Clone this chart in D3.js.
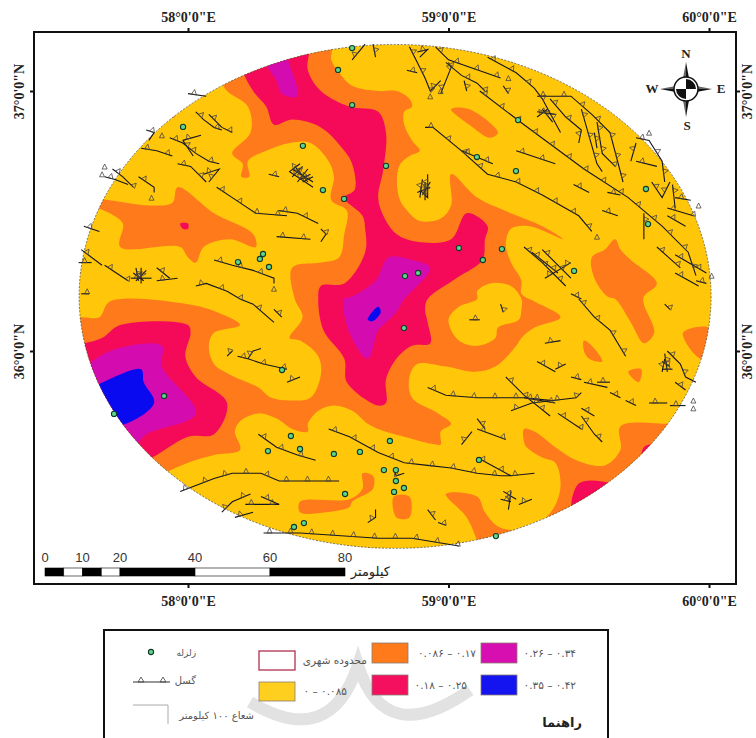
<!DOCTYPE html>
<html>
<head>
<meta charset="utf-8">
<style>
	body { margin: 0; background: #fff; }
	svg { display: block; }
	.axis text { font-family: "Liberation Serif", serif; font-weight: bold; font-size: 14px; fill: #222; }
	.axis line { stroke: #111; stroke-width: 2; }
	.axis path { display: none; }
	.fa { font-family: "DejaVu Sans", sans-serif; fill: #555; }
</style>
<script src="https://cdn.jsdelivr.net/npm/d3@7"></script>
</head>
<body>
<script>
'use strict';

// study area: the 100 km buffer, in degrees
var bufferCentre = [58.795, 36.21];
var bufferRadius = [1.213, 0.969];

var lonTicks = [58, 59, 60];
var latTicks = [36, 37];

var orangeZones = [
	[[58.55,37.20],[58.55,37.12],[58.58,37.07],[58.63,37.02],[58.73,37.00],[58.80,37.00],[58.85,36.97],[58.86,36.94],[58.83,36.92],[58.83,36.87],[58.86,36.81],[58.89,36.77],[58.85,36.75],[58.81,36.71],[58.81,36.59],[58.85,36.53],[58.89,36.50],[58.97,36.51],[59.01,36.56],[59.01,36.68],[59.11,36.59],[59.24,36.53],[59.36,36.48],[59.44,36.43],[59.31,36.48],[59.24,36.47],[59.22,36.41],[59.24,36.34],[59.28,36.27],[59.28,36.22],[59.33,36.19],[59.43,36.13],[59.33,36.09],[59.28,36.05],[59.26,36.02],[59.18,35.94],[59.10,35.92],[58.99,35.94],[58.88,35.95],[58.85,35.90],[58.86,35.82],[58.96,35.76],[59.01,35.72],[58.97,35.69],[58.97,35.64],[58.95,35.64],[58.83,35.67],[58.73,35.70],[58.69,35.72],[58.63,35.77],[58.56,35.79],[58.50,35.77],[58.46,35.72],[58.46,35.69],[58.40,35.70],[58.34,35.74],[58.27,35.76],[58.20,35.73],[58.18,35.69],[58.20,35.62],[58.10,35.60],[58.00,35.57],[57.91,35.53],[57.85,35.50],[57.59,35.50],[57.51,36.12],[57.59,36.13],[57.66,36.13],[57.70,36.19],[58.00,36.18],[58.11,36.15],[58.20,36.10],[58.10,36.07],[58.08,36.02],[58.10,35.95],[58.16,35.91],[58.27,35.86],[58.32,35.82],[58.39,35.81],[58.47,35.82],[58.51,35.91],[58.50,35.98],[58.43,36.04],[58.39,36.05],[58.44,36.13],[58.41,36.20],[58.40,36.32],[58.51,36.34],[58.58,36.36],[58.60,36.45],[58.61,36.54],[58.55,36.58],[58.56,36.67],[58.54,36.73],[58.47,36.80],[58.39,36.80],[58.30,36.77],[58.23,36.73],[58.235,36.67],[58.205,36.67],[58.21,36.72],[58.17,36.76],[58.24,36.84],[58.23,36.94],[58.15,37.00],[58.12,37.05],[58.10,37.12],[58.20,37.20]],
	[[57.64,36.58],[57.85,36.56],[57.94,36.57],[57.96,36.63],[58.10,36.53],[58.25,36.45],[58.26,36.40],[58.16,36.43],[58.06,36.40],[58.03,36.34],[58.00,36.36],[57.97,36.40],[57.74,36.40],[57.75,36.49],[57.70,36.53],[57.64,36.56]],
	[[59.64,36.43],[59.66,36.39],[59.70,36.35],[59.80,36.26],[59.75,36.21],[59.75,36.18],[59.79,36.07],[59.75,36.03],[59.70,36.11],[59.64,36.20],[59.61,36.21],[59.56,36.28],[59.55,36.36],[59.60,36.39]],
	[[59.01,36.93],[59.08,36.93],[59.19,36.84],[59.16,36.82],[59.08,36.87]],
	[[57.91,36.92],[57.94,36.93],[57.95,36.90],[57.92,36.90]],
	[[59.90,36.07],[60.00,36.09],[60.01,36.02],[59.97,35.97]],
	[[59.52,36.04],[59.55,36.02],[59.59,35.96],[59.54,35.97],[59.52,36.00]],
	[[59.69,35.92],[59.74,35.93],[59.73,35.88]],
	[[59.29,35.70],[59.33,35.69],[59.41,35.63],[59.49,35.58],[59.60,35.56],[59.66,35.62],[59.66,35.71],[59.87,35.72],[59.97,35.73],[59.97,35.43],[59.43,35.20],[59.12,35.24],[59.11,35.27],[59.07,35.36],[58.99,35.45],[59.11,35.44],[59.14,35.38],[59.20,35.32],[59.32,35.32],[59.40,35.39],[59.43,35.48],[59.41,35.57],[59.36,35.59],[59.30,35.63],[59.29,35.65]],
	[[58.67,35.53],[58.71,35.52],[58.71,35.47],[58.63,35.42],[58.62,35.40],[58.53,35.38],[58.43,35.38],[58.43,35.42],[58.62,35.43],[58.67,35.47]],
	[[58.79,35.44],[58.85,35.44],[58.85,35.36],[58.80,35.36]]
];

var crimsonZones = [
	[[58.20,37.20],[58.21,37.08],[58.25,37.00],[58.30,36.94],[58.33,36.87],[58.40,36.89],[58.51,36.86],[58.60,36.77],[58.63,36.72],[58.64,36.62],[58.60,36.59],[58.67,36.52],[58.68,36.47],[58.68,36.38],[58.60,36.26],[58.51,36.25],[58.50,36.20],[58.52,36.08],[58.60,35.97],[58.61,35.88],[58.73,35.79],[58.76,35.80],[58.76,35.89],[58.80,35.97],[58.86,36.02],[58.93,36.03],[58.92,36.11],[58.91,36.16],[58.92,36.20],[59.03,36.28],[59.13,36.35],[59.14,36.43],[59.15,36.48],[59.07,36.53],[59.01,36.43],[58.88,36.42],[58.80,36.45],[58.75,36.52],[58.73,36.59],[58.75,36.70],[58.76,36.84],[58.73,36.92],[58.62,36.94],[58.51,37.00],[58.46,37.08],[58.46,37.20]],
	[[57.60,36.03],[57.67,36.05],[57.74,36.10],[58.00,36.10],[58.01,36.07],[57.99,35.98],[58.03,35.90],[58.15,35.80],[58.10,35.68],[58.00,35.67],[57.84,35.58],[57.66,35.54],[57.51,35.81],[57.51,36.02]],
	[[59.75,35.63],[59.83,35.64],[59.89,35.58],[59.75,35.54]],
	[[59.50,35.49],[59.63,35.49],[59.74,35.43],[59.48,35.37]],
	[[57.97,36.49],[58.00,36.49],[58.00,36.47],[57.98,36.47]]
];

var magentaZones = [
	[[58.77,36.36],[58.86,36.35],[58.93,36.32],[58.85,36.22],[58.83,36.20],[58.80,36.15],[58.76,36.11],[58.73,36.08],[58.69,35.97],[58.62,36.07],[58.60,36.20],[58.63,36.21],[58.72,36.27]],
	[[58.30,37.20],[58.30,37.11],[58.34,37.04],[58.36,36.99],[58.42,36.98],[58.38,37.14],[58.38,37.20]],
	[[57.62,35.95],[57.73,36.01],[57.90,36.02],[57.90,35.94],[58.03,35.76],[57.84,35.68],[57.79,35.63],[57.62,35.58],[57.55,35.85]]
];

var blueZones = [
	[[58.69,36.12],[58.73,36.17],[58.74,36.15],[58.71,36.115]],
	[[57.65,35.87],[57.82,35.93],[57.83,35.88],[57.87,35.80],[57.73,35.71],[57.62,35.73],[57.60,35.85]]
];

// yellow islands sitting inside the orange
var yellowZones = [
	[[59.11,36.23],[59.16,36.26],[59.24,36.25],[59.28,36.20],[59.28,36.16],[59.27,36.12],[59.19,36.09],[59.18,36.05],[59.11,36.02],[59.04,36.04],[59.00,36.12],[59.04,36.17],[59.11,36.20]]
];

var faultLines = [
	[[58.00,36.99],[58.07,36.98]],
	[[58.03,36.92],[58.06,36.89],[58.10,36.86],[58.13,36.85]],
	[[58.08,36.91],[58.11,36.88],[58.13,36.86],[58.17,36.84]],
	[[57.93,36.82],[57.98,36.80],[58.03,36.76],[58.08,36.73],[58.12,36.72]],
	[[57.98,36.81],[58.05,36.83]],
	[[57.98,36.81],[58.02,36.75]],
	[[57.82,36.78],[57.88,36.77],[57.94,36.75]],
	[[57.84,36.85],[57.87,36.84],[57.85,36.81]],
	[[57.96,36.72],[58.01,36.71],[58.07,36.65]],
	[[58.06,36.68],[58.12,36.70],[58.08,36.65]],
	[[57.71,36.70],[57.75,36.67],[57.79,36.63]],
	[[57.68,36.67],[57.72,36.66],[57.77,36.64]],
	[[57.81,36.67],[57.87,36.63],[57.87,36.61]],
	[[58.11,36.63],[58.17,36.59],[58.26,36.53],[58.38,36.52]],
	[[58.35,36.54],[58.42,36.53],[58.50,36.49]],
	[[58.31,36.68],[58.35,36.67]],
	[[58.43,36.72],[58.39,36.69],[58.48,36.63]],
	[[58.40,36.70],[58.48,36.65]],
	[[58.42,36.65],[58.46,36.70]],
	[[58.43,36.66],[58.47,36.68]],
	[[58.41,36.71],[58.46,36.65]],
	[[58.40,36.67],[58.44,36.71]],
	[[58.44,36.65],[58.48,36.67]],
	[[58.34,36.44],[58.47,36.43]],
	[[58.51,36.47],[58.53,36.45],[58.51,36.42]],
	[[58.10,36.35],[58.17,36.33],[58.25,36.31],[58.33,36.28],[58.33,36.26]],
	[[57.58,36.34],[57.63,36.34]],
	[[57.59,36.39],[57.67,36.33]],
	[[57.68,36.33],[57.77,36.27]],
	[[57.78,36.28],[57.86,36.28]],
	[[57.80,36.32],[57.81,36.27]],
	[[57.79,36.30],[57.83,36.27]],
	[[57.80,36.27],[57.84,36.31]],
	[[57.82,36.32],[57.82,36.26]],
	[[57.88,36.32],[57.93,36.28]],
	[[57.88,36.27],[57.96,36.28]],
	[[58.03,36.25],[58.07,36.26],[58.15,36.23],[58.20,36.20],[58.25,36.18],[58.33,36.11]],
	[[58.33,36.16],[58.36,36.13]],
	[[57.59,36.22],[57.62,36.22]],
	[[57.60,36.48],[57.66,36.46]],
	[[58.15,35.98],[58.17,36.00]],
	[[58.19,35.98],[58.23,35.97],[58.29,35.95],[58.38,35.93]],
	[[58.23,35.97],[58.25,36.00],[58.28,36.01]],
	[[58.38,35.88],[58.43,35.90]],
	[[58.27,35.68],[58.34,35.63],[58.42,35.60],[58.49,35.58]],
	[[58.54,35.70],[58.62,35.67],[58.73,35.61],[58.83,35.57],[58.92,35.56],[59.01,35.55],[59.11,35.53],[59.20,35.52],[59.24,35.52],[59.33,35.53]],
	[[57.97,35.46],[58.10,35.51],[58.17,35.53],[58.28,35.53],[58.35,35.50],[58.58,35.50]],
	[[58.13,35.38],[58.17,35.42],[58.24,35.45]],
	[[58.22,35.41],[58.35,35.41]],
	[[58.28,35.44],[58.35,35.41]],
	[[58.18,35.36],[58.25,35.38]],
	[[58.29,35.30],[58.43,35.30],[58.73,35.28],[58.86,35.28],[59.04,35.25]],
	[[58.69,35.34],[58.72,35.36],[58.72,35.39]],
	[[59.11,35.59],[59.24,35.52]],
	[[58.79,35.54],[58.80,35.52],[58.83,35.53]],
	[[59.21,35.46],[59.26,35.43]],
	[[59.24,35.46],[59.23,35.39]],
	[[59.20,35.43],[59.24,35.42]],
	[[59.27,35.41],[59.32,35.43]],
	[[58.92,35.39],[58.95,35.35]],
	[[58.96,35.34],[58.99,35.33]],
	[[59.11,35.70],[59.22,35.66]],
	[[59.14,35.70],[59.11,35.74]],
	[[59.05,35.64],[59.09,35.69]],
	[[58.92,35.86],[58.99,35.83],[59.11,35.82],[59.29,35.82],[59.39,35.81]],
	[[59.22,35.90],[59.29,35.83],[59.39,35.75]],
	[[59.24,35.77],[59.32,35.80],[59.49,35.82],[59.51,35.84]],
	[[59.29,35.82],[59.41,35.80]],
	[[59.42,35.76],[59.51,35.70]],
	[[59.51,35.75],[59.56,35.68],[59.59,35.65]],
	[[59.51,35.78],[59.56,35.75]],
	[[59.37,36.03],[59.43,36.04]],
	[[59.34,35.96],[59.41,35.92]],
	[[59.41,35.93],[59.45,35.95]],
	[[59.47,35.90],[59.51,35.89]],
	[[59.52,35.88],[59.61,35.86]],
	[[59.57,35.88],[59.62,35.88]],
	[[59.62,35.84],[59.66,35.82]],
	[[59.68,35.81],[59.72,35.79]],
	[[59.77,35.80],[59.84,35.80]],
	[[59.85,35.79],[59.91,35.79]],
	[[59.50,36.20],[59.56,36.13],[59.62,36.08],[59.68,35.98]],
	[[59.84,36.00],[59.89,35.95],[59.91,35.90],[59.95,35.88]],
	[[59.83,35.97],[59.82,35.92]],
	[[59.82,35.93],[59.86,35.93]],
	[[59.82,35.96],[59.85,35.94]],
	[[59.83,35.99],[59.84,35.92]],
	[[59.87,35.88],[59.91,35.85]],
	[[59.08,36.12],[59.12,36.12]],
	[[59.20,36.18],[59.21,36.15]],
	[[59.83,36.18],[59.85,36.16]],
	[[58.85,37.17],[58.91,37.05],[58.93,37.00]],
	[[58.93,37.00],[58.97,37.04]],
	[[58.84,37.08],[58.88,37.07]],
	[[58.88,37.15],[58.92,37.16],[58.89,37.13]],
	[[58.95,37.17],[59.00,37.12],[59.20,37.05]],
	[[59.00,37.11],[59.01,37.09],[58.97,36.99]],
	[[58.99,37.11],[59.05,37.06],[59.11,37.03],[59.14,37.00]],
	[[59.12,37.00],[59.29,36.87],[59.52,36.70],[59.69,36.59],[59.82,36.48],[59.92,36.38],[59.95,36.29]],
	[[59.15,37.13],[59.26,37.07],[59.33,37.01],[59.36,36.97],[59.43,36.84]],
	[[59.34,36.98],[59.47,36.98],[59.55,36.91],[59.62,36.84],[59.67,36.65]],
	[[59.39,36.97],[59.45,36.90],[59.51,36.85],[59.50,36.80]],
	[[59.34,36.92],[59.41,36.91]],
	[[59.36,36.93],[59.40,36.88]],
	[[59.34,36.90],[59.38,36.93]],
	[[59.51,36.93],[59.57,36.72],[59.59,36.69]],
	[[59.57,36.88],[59.59,36.76],[59.64,36.71]],
	[[59.56,36.84],[59.57,36.78]],
	[[59.06,37.04],[59.07,37.00]],
	[[59.21,37.02],[59.23,36.99]],
	[[58.91,36.86],[58.94,36.86],[59.05,36.77],[59.15,36.68],[59.26,36.65],[59.36,36.60],[59.50,36.52],[59.55,36.46]],
	[[59.05,36.77],[59.17,36.72]],
	[[59.26,36.77],[59.41,36.72]],
	[[59.48,36.64],[59.54,36.61]],
	[[59.59,36.54],[59.65,36.52]],
	[[59.61,36.61],[59.66,36.60]],
	[[58.89,36.62],[58.92,36.59],[58.92,36.68]],
	[[58.88,36.61],[58.93,36.63]],
	[[58.91,36.65],[58.91,36.58]],
	[[58.90,36.66],[58.89,36.59]],
	[[58.93,36.65],[58.90,36.60]],
	[[59.72,36.80],[59.70,36.73]],
	[[59.72,36.82],[59.77,36.81],[59.82,36.73],[59.83,36.65]],
	[[59.72,36.73],[59.80,36.71]],
	[[59.78,36.65],[59.82,36.59],[59.85,36.65]],
	[[59.86,36.64],[59.87,36.55]],
	[[59.84,36.55],[59.94,36.52]],
	[[59.84,36.52],[59.91,36.48]],
	[[59.87,36.59],[59.93,36.58]],
	[[59.75,36.53],[59.75,36.43]],
	[[59.80,36.40],[59.89,36.32]],
	[[59.87,36.37],[59.99,36.30]],
	[[59.87,36.30],[59.96,36.25]],
	[[59.95,36.27],[59.99,36.26]],
	[[59.29,36.40],[59.36,36.34],[59.45,36.25]],
	[[59.32,36.38],[59.42,36.30]],
	[[59.37,36.28],[59.47,36.34]],
	[[59.36,36.39],[59.47,36.28]],
	[[59.47,36.22],[59.51,36.20]],
	[[58.63,37.12],[58.68,37.18]],
	[[58.71,37.18],[58.72,37.13]]
];

// triangles with no fault line next to them
var looseTicks = [
	[57.90,36.82],[58.33,36.23],[57.86,36.58],[58.93,36.97],[58.97,36.99],[59.23,37.04],[59.57,36.43],
	[59.77,36.83],[59.96,36.55],[60.01,36.28],[59.94,35.80],[59.94,35.77],[57.67,36.67],[57.68,36.70]
];

var earthquakes = [
	[58.630,37.165],[58.576,37.081],[58.630,36.946],[57.981,36.862],[58.441,36.789],[58.518,36.619],
	[58.599,36.585],[58.288,36.373],[58.276,36.354],[58.192,36.342],[58.311,36.323],[58.760,36.712],
	[59.267,36.888],[59.109,36.746],[59.259,36.692],[59.758,36.623],[59.766,36.488],[59.040,36.396],
	[59.205,36.392],[59.132,36.350],[58.883,36.300],[58.833,36.288],[59.482,36.308],[58.829,36.088],
	[58.775,35.654],[58.752,35.542],[58.798,35.542],[58.798,35.500],[58.829,35.473],[58.791,35.458],
	[59.117,35.581],[59.182,35.288],[58.361,35.927],[57.908,35.827],[57.716,35.758],[58.395,35.673],
	[58.430,35.623],[58.307,35.615],[58.560,35.604],[58.660,35.612],[58.603,35.450],[58.445,35.338],
	[58.407,35.323]
];

var scaleStops = [0, 5, 10, 15, 20, 40, 60, 80];
var scaleLabels = [0, 10, 20, 40, 60, 80];

var legendRanges = ['۰.۰۸۶ – ۰.۱۷', '۰.۲۶ – ۰.۳۴', '۰.۱۸ – ۰.۲۵', '۰.۳۵ – ۰.۴۲'];
var legendColours = ['#ff7a1a', '#d80fb0', '#f50f5f', '#1414f0'];

var yellow = '#ffc60a';

var svg = d3.select('body').append('svg')
	.attr('width', 756)
	.attr('height', 738);

var x = d3.scaleLinear().domain([58, 60]).range([188, 709]);
var y = d3.scaleLinear().domain([36, 37]).range([351, 91]);
var km = d3.scaleLinear().domain([0, 80]).range([45, 345]);

var zoneLine = d3.line()
	.x(function (d) { return x(d[0]); })
	.y(function (d) { return y(d[1]); })
	.curve(d3.curveCatmullRomClosed.alpha(0.5));

var faultLine = d3.line()
	.x(function (d) { return x(d[0]); })
	.y(function (d) { return y(d[1]); });

function drawFrame() {
	svg.append('rect')
		.attr('x', 34).attr('y', 32)
		.attr('width', 702).attr('height', 552)
		.attr('fill', '#fff')
		.attr('stroke', '#111')
		.attr('stroke-width', 2);
}

function drawAxes() {
	var lonFormat = function (d) { return d + "°0'0\"E"; };
	var latFormat = function (d) { return d + "°0'0\"N"; };

	svg.append('g').attr('class', 'axis').attr('transform', 'translate(0,32)')
		.call(d3.axisTop(x).tickValues(lonTicks).tickSize(4).tickPadding(6).tickFormat(lonFormat));
	svg.append('g').attr('class', 'axis').attr('transform', 'translate(0,584)')
		.call(d3.axisBottom(x).tickValues(lonTicks).tickSize(4).tickPadding(8).tickFormat(lonFormat));

	var left = svg.append('g').attr('class', 'axis').attr('transform', 'translate(34,0)')
		.call(d3.axisLeft(y).tickValues(latTicks).tickSize(4).tickFormat(latFormat));
	var right = svg.append('g').attr('class', 'axis').attr('transform', 'translate(736,0)')
		.call(d3.axisRight(y).tickValues(latTicks).tickSize(4).tickFormat(latFormat));

	left.selectAll('text')
		.attr('x', 0).attr('dy', 0)
		.attr('text-anchor', 'middle')
		.attr('transform', 'translate(-10,0) rotate(-90)');
	right.selectAll('text')
		.attr('x', 0).attr('dy', 0)
		.attr('text-anchor', 'middle')
		.attr('transform', 'translate(16,0) rotate(-90)');
}

function drawZones() {
	var cx = x(bufferCentre[0]);
	var cy = y(bufferCentre[1]);
	var rx = x(bufferCentre[0] + bufferRadius[0]) - cx;
	var ry = cy - y(bufferCentre[1] + bufferRadius[1]);

	svg.append('clipPath').attr('id', 'buffer')
		.append('ellipse')
		.attr('cx', cx).attr('cy', cy).attr('rx', rx).attr('ry', ry);

	var map = svg.append('g').attr('clip-path', 'url(#buffer)');

	map.append('rect')
		.attr('x', cx - rx).attr('y', cy - ry)
		.attr('width', 2 * rx).attr('height', 2 * ry)
		.attr('fill', yellow);

	var layers = [
		[orangeZones, '#ff7a1a'],
		[crimsonZones, '#f50a5a'],
		[magentaZones, '#d40cb0'],
		[blueZones, '#0a0af0'],
		[yellowZones, yellow]
	];

	layers.forEach(function (layer) {
		map.selectAll(null)
			.data(layer[0])
			.enter().append('path')
			.attr('d', zoneLine)
			.attr('fill', layer[1]);
	});

	svg.append('ellipse')
		.attr('cx', cx).attr('cy', cy).attr('rx', rx).attr('ry', ry)
		.attr('fill', 'none')
		.attr('stroke', '#444')
		.attr('stroke-width', 0.7)
		.attr('stroke-dasharray', '2,1.5');
}

function triangle(px, py, dx, dy, nx, ny) {
	var size = 5;
	return 'M' + (px - dx * size / 2) + ',' + (py - dy * size / 2) +
		'L' + (px + nx * size) + ',' + (py + ny * size) +
		'L' + (px + dx * size / 2) + ',' + (py + dy * size / 2) + 'Z';
}

// little triangles walking along a fault, one side of the line only
function faultTicks(line) {
	var spacing = 21;
	var ticks = [];
	var walked = 6;
	var i, ax, ay, bx, by, len, t, nx, ny, dx, dy;

	for (i = 0; i < line.length - 1; i++) {
		ax = x(line[i][0]); ay = y(line[i][1]);
		bx = x(line[i + 1][0]); by = y(line[i + 1][1]);
		len = Math.sqrt((bx - ax) * (bx - ax) + (by - ay) * (by - ay));
		dx = (bx - ax) / len; dy = (by - ay) / len;
		nx = dy; ny = -dx;
		if (ny > 0) { nx = -nx; ny = -ny; }

		t = walked;
		while (t < len) {
			ticks.push(triangle(ax + dx * t, ay + dy * t, dx, dy, nx, ny));
			t += spacing;
		}
		walked = t - len;
	}
	return ticks.join('');
}

function drawFaults() {
	var g = svg.append('g');

	g.selectAll('.fault')
		.data(faultLines)
		.enter().append('path')
		.attr('class', 'fault')
		.attr('d', faultLine)
		.attr('fill', 'none')
		.attr('stroke', '#15151f')
		.attr('stroke-width', 1.1);

	g.selectAll('.fault-tick')
		.data(faultLines)
		.enter().append('path')
		.attr('class', 'fault-tick')
		.attr('d', faultTicks)
		.attr('fill', 'none')
		.attr('stroke', '#4a4440')
		.attr('stroke-width', 0.8);

	g.selectAll('.loose-tick')
		.data(looseTicks)
		.enter().append('path')
		.attr('class', 'loose-tick')
		.attr('d', function (d) { return triangle(x(d[0]), y(d[1]), 1, 0, 0, -1); })
		.attr('fill', 'none')
		.attr('stroke', '#4a4440')
		.attr('stroke-width', 0.8);
}

function drawQuakes() {
	svg.append('g').selectAll('circle')
		.data(earthquakes)
		.enter().append('circle')
		.attr('cx', function (d) { return x(d[0]); })
		.attr('cy', function (d) { return y(d[1]); })
		.attr('r', 2.6)
		.attr('fill', '#5fd68c')
		.attr('stroke', '#123a2a')
		.attr('stroke-width', 1.1);
}

function drawCompass() {
	var g = svg.append('g').attr('transform', 'translate(686,89)');
	var spikes = [[0, -27], [26, 0], [0, 28], [-26, 0]];

	spikes.forEach(function (s) {
		var wx = s[1] === 0 ? 0 : 5;
		var wy = s[0] === 0 ? 0 : 5;
		g.append('path')
			.attr('d', 'M0,0L' + wx + ',' + wy + 'L' + s[0] + ',' + s[1] + 'Z')
			.attr('fill', '#111');
		g.append('path')
			.attr('d', 'M0,0L' + (-wx) + ',' + (-wy) + 'L' + s[0] + ',' + s[1] + 'Z')
			.attr('fill', '#666');
	});

	g.append('circle').attr('r', 12).attr('fill', '#fff').attr('stroke', '#111').attr('stroke-width', 1.5);
	g.append('path').attr('d', 'M0,0L0,-10A10,10 0 0 1 10,0Z').attr('fill', '#111');
	g.append('path').attr('d', 'M0,0L0,10A10,10 0 0 1 -10,0Z').attr('fill', '#111');

	[['N', 0, -31], ['S', 1, 41], ['W', -34, 4], ['E', 35, 4]].forEach(function (l) {
		g.append('text')
			.attr('x', l[1]).attr('y', l[2])
			.attr('text-anchor', 'middle')
			.style('font-family', '"Liberation Serif", serif')
			.style('font-size', '13px')
			.style('font-weight', 'bold')
			.attr('fill', '#222')
			.text(l[0]);
	});
}

function drawScaleBar() {
	var g = svg.append('g');
	d3.pairs(scaleStops).forEach(function (p, i) {
		g.append('rect')
			.attr('x', km(p[0])).attr('y', 568)
			.attr('width', km(p[1]) - km(p[0])).attr('height', 8)
			.attr('fill', i % 2 === 0 ? '#000' : '#fff')
			.attr('stroke', '#000')
			.attr('stroke-width', 0.6);
	});

	g.selectAll('.km-label')
		.data(scaleLabels)
		.enter().append('text')
		.attr('class', 'km-label')
		.attr('x', function (d) { return km(d); })
		.attr('y', 562)
		.attr('text-anchor', 'middle')
		.style('font-family', '"Liberation Sans", sans-serif')
		.style('font-size', '13px')
		.attr('fill', '#333')
		.text(function (d) { return d; });

	g.append('text')
		.attr('class', 'fa')
		.attr('x', 390).attr('y', 576)
		.attr('text-anchor', 'end')
		.style('font-size', '13px')
		.style('fill', '#222')
		.text('کیلومتر');
}

function legendText(g, label, xEnd, yPos, size) {
	return g.append('text')
		.attr('class', 'fa')
		.attr('x', xEnd).attr('y', yPos)
		.attr('text-anchor', 'end')
		.style('font-size', size + 'px')
		.text(label);
}

function drawLegend() {
	var g = svg.append('g');

	// the page's faint watermark, behind the legend
	g.append('path')
		.attr('d', 'M250,702Q330,750 358,665Q385,750 470,690')
		.attr('fill', 'none')
		.attr('stroke', '#e2e2e2')
		.attr('stroke-width', 12);

	g.append('rect')
		.attr('x', 104).attr('y', 630)
		.attr('width', 504).attr('height', 120)
		.attr('fill', 'none')
		.attr('stroke', '#111')
		.attr('stroke-width', 2);

	var swatchX = [372, 481, 372, 481];
	var swatchY = [643, 643, 675, 675];
	var labelEnd = [476, 576, 467, 576];

	legendRanges.forEach(function (label, i) {
		g.append('rect')
			.attr('x', swatchX[i]).attr('y', swatchY[i])
			.attr('width', 36).attr('height', 20)
			.attr('fill', legendColours[i])
			.attr('stroke', '#8a7a70')
			.attr('stroke-width', 0.8);
		legendText(g, label, labelEnd[i], swatchY[i] + 14, 10.5);
	});

	g.append('rect')
		.attr('x', 259).attr('y', 651)
		.attr('width', 36).attr('height', 19)
		.attr('fill', '#fff')
		.attr('stroke', '#b03050')
		.attr('stroke-width', 1.3);
	legendText(g, 'محدوده شهری', 367, 664, 10.5);

	g.append('rect')
		.attr('x', 259).attr('y', 682)
		.attr('width', 36).attr('height', 19)
		.attr('fill', '#ffcf20')
		.attr('stroke', '#8a7a70')
		.attr('stroke-width', 0.8);
	legendText(g, '۰ – ۰.۰۸۵', 347, 695, 10.5);

	g.append('circle')
		.attr('cx', 151).attr('cy', 652).attr('r', 2.6)
		.attr('fill', '#5fd68c').attr('stroke', '#123a2a').attr('stroke-width', 1.1);
	legendText(g, 'زلزله', 196, 656, 9);

	g.append('path')
		.attr('d', 'M133,682H170')
		.attr('stroke', '#333')
		.attr('stroke-width', 1.2);
	g.append('path')
		.attr('d', 'M138,682L141,677L144,682ZM160,682L163,677L166,682Z')
		.attr('fill', 'none')
		.attr('stroke', '#444')
		.attr('stroke-width', 0.8);
	legendText(g, 'گسل', 196, 684, 10);

	g.append('path')
		.attr('d', 'M133,705H168V724')
		.attr('fill', 'none')
		.attr('stroke', '#aaa')
		.attr('stroke-width', 1);
	legendText(g, 'شعاع ۱۰۰ کیلومتر', 254, 719, 10);

	legendText(g, 'راهنما', 582, 727, 13)
		.style('fill', '#222')
		.style('font-weight', 'bold');
}

drawFrame();
drawAxes();
drawZones();
drawFaults();
drawQuakes();
drawCompass();
drawScaleBar();
drawLegend();
</script>
</body>
</html>
